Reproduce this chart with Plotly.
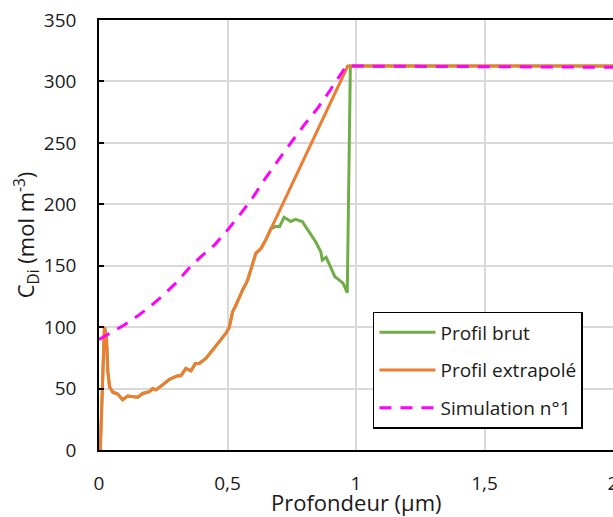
import plotly.graph_objects as go

# depth (µm) and concentration (mol m-3)
x_common = [0.005, 0.021, 0.029, 0.034, 0.041, 0.054, 0.073, 0.092, 0.112, 0.131,
            0.151, 0.170, 0.196, 0.209, 0.222, 0.241, 0.274, 0.306, 0.319, 0.338,
            0.358, 0.375, 0.390, 0.416, 0.442, 0.468, 0.494, 0.507, 0.520, 0.533,
            0.558, 0.578, 0.597, 0.610, 0.630, 0.649]
y_common = [0, 100, 92, 65, 51.5, 47, 45.5, 41, 44, 43.4,
            43, 46, 47.5, 50, 49, 52, 57.5, 60.5, 60.5, 66.5,
            64.5, 70.5, 70.5, 74.6, 81.4, 89, 95, 100, 112.6, 118,
            130, 138, 152, 160, 164, 171]

x_brut_tail = [0.668, 0.688, 0.703, 0.720, 0.733, 0.746, 0.765, 0.791, 0.804, 0.824,
               0.843, 0.863, 0.869, 0.884, 0.901, 0.918, 0.934, 0.950, 0.966, 0.978,
               1.0, 1.5, 2.0]
y_brut_tail = [180, 182, 182, 189.4, 187.8, 186, 187.8, 186, 181.8, 175,
               169.5, 161.4, 154.6, 156.8, 148.7, 141, 138.5, 135.6, 128, 312.5,
               312.5, 312.5, 312.5]

x_extra_tail = [0.968, 1.0, 1.5, 2.0]
y_extra_tail = [312.5, 312.5, 312.5, 312.5]

x_simu = [0, 0.05, 0.1, 0.15, 0.2, 0.25, 0.3, 0.35, 0.4, 0.45, 0.5, 0.55, 0.6,
          0.65, 0.7, 0.75, 0.8, 0.85, 0.9, 0.95, 0.962, 1.0, 1.5, 2.0]
y_simu = [90, 96, 102, 109, 117, 126, 136, 148, 158, 167, 179, 192, 206,
          222, 237, 251, 265, 278, 293, 309, 312.5, 312.5, 312, 311.5]

x_ticks = [0, 0.5, 1, 1.5, 2]
x_ticklabels = ["0", "0,5", "1", "1,5", "2"]

font = "Open Sans"

fig = go.Figure()

fig.add_trace(go.Scatter(x=x_common + x_brut_tail, y=y_common + y_brut_tail,
                         mode="lines", name="Profil brut", legendgroup="a",
                         line=dict(color="#70AD47", width=3)))
fig.add_trace(go.Scatter(x=x_common + x_extra_tail, y=y_common + y_extra_tail,
                         mode="lines", name="Profil extrapolé", legendgroup="b",
                         line=dict(color="#ED7D31", width=3)))
fig.add_trace(go.Scatter(x=x_simu, y=y_simu,
                         mode="lines", name="Simulation n°1", legendgroup="c",
                         line=dict(color="#FF00FF", width=3, dash="12px,9px")))

fig.update_layout(
    width=613, height=517,
    margin=dict(l=99, r=0, t=20, b=67),
    plot_bgcolor="white", paper_bgcolor="white",
    font=dict(family=font, size=19, color="#1a1a1a"),
    showlegend=True,
    legend=dict(x=0.533, y=0.321, xanchor="left", yanchor="top",
                bgcolor="white", bordercolor="black", borderwidth=1.5,
                font=dict(size=19, color="#1a1a1a"), tracegroupgap=10,
                itemwidth=56),
    # second x axis only carries the small inward tick marks
    xaxis2=dict(overlaying="x", matches="x", anchor="y", side="bottom",
                range=[0, 2], tickvals=x_ticks, showticklabels=False,
                ticks="inside", ticklen=5, tickcolor="black", tickwidth=1.5,
                showgrid=False, zeroline=False, showline=False),
)

# x title as a paper annotation so it can sit close under the tick labels
fig.add_annotation(text="Profondeur (µm)", xref="paper", yref="paper",
                   x=0.5, y=-0.121, xanchor="center", yanchor="middle",
                   showarrow=False, font=dict(size=22))

# transparent outside ticks push the labels down to where the reference has them
fig.update_xaxes(selector=dict(overlaying=None), range=[0, 2],
                 tickvals=x_ticks, ticktext=x_ticklabels,
                 showline=True, linecolor="black", linewidth=1.5, mirror=True,
                 ticks="outside", ticklen=15, tickcolor="rgba(0,0,0,0)",
                 gridcolor="#D9D9D9", gridwidth=1.5, zeroline=False,
                 automargin=False, ticklabeloverflow="allow")

fig.update_yaxes(range=[0, 350], dtick=50,
                 showline=True, linecolor="black", linewidth=1.5,
                 ticks="inside", ticklen=5, tickcolor="black", tickwidth=1.5,
                 gridcolor="#D9D9D9", gridwidth=1.5, zeroline=False,
                 automargin=False, ticklabelstandoff=17, ticklabeloverflow="allow",
                 title=dict(text="C<sub>Di</sub> (mol m<sup>-3</sup>)",
                            font=dict(size=22), standoff=3))

# drop the page's 8px body margin; no responsive redraw so nothing moves afterwards
fig.write_html("out.html", config={"displayModeBar": False, "responsive": False},
               post_script="document.body.style.margin='0';"
                           "document.body.style.overflow='hidden';")
